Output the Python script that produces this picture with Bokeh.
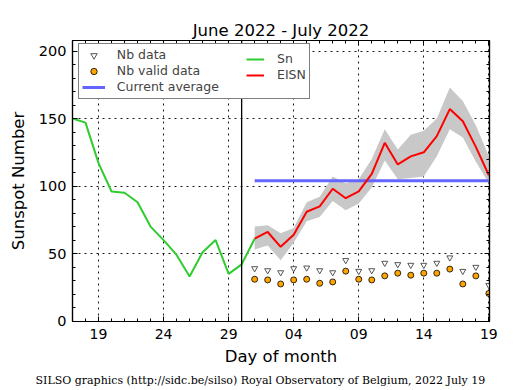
from bokeh.plotting import figure
from bokeh.models import Range1d, FixedTicker, Span, Legend, LegendItem, LinearAxis, Title
from bokeh.embed import file_html
from bokeh.resources import INLINE

# ---- data (day number: June d -> d, July d -> 30 + d) ----
sn_days = list(range(17, 32))
sn = [150, 147, 117, 96, 95, 88, 70, 60, 49, 33, 51, 60, 35, 42, 61]
est_days = list(range(31, 50))
eisn = [61, 66, 55, 64, 81, 85, 98, 91, 96, 109, 132, 116, 122, 125, 137, 157, 148, 129, 108]
eisn_hi = [70, 71, 65, 69, 88, 92, 107, 102, 105, 120, 142, 127, 138, 141, 150, 173, 163, 145, 122]
eisn_lo = [53, 56, 45, 58, 74, 77, 89, 82, 87, 99, 119, 105, 106, 107, 122, 142, 136, 118, 102]
nb_data = [39, 37.5, 36, 39, 39.5, 37.5, 36, 45, 37, 37.5, 43, 42, 41.5, 41.5, 43, 47, 37, 40, 26.5]
nb_valid = [31, 30.5, 27.5, 30.5, 31, 28, 29, 37, 31, 30.5, 33.5, 35.5, 34, 35.5, 35.5, 38.5, 27.5, 33.5, 20.5]
current_avg = 104
month_boundary = 30
x_ticks = [19, 24, 29, 34, 39, 44, 49]
x_tick_labels = ["19", "24", "29", "04", "09", "14", "19"]
y_ticks = [0, 50, 100, 150, 200]

FONT = "DejaVu Sans"

p = figure(width=515, height=390, x_range=Range1d(17, 49.05), y_range=Range1d(-0.3, 207.8),
           output_backend="svg", toolbar_location=None,
           min_border_left=72, min_border_right=26, min_border_top=40, min_border_bottom=68,
           x_axis_location=None, y_axis_location=None)
p.outline_line_color = "black"
p.outline_line_width = 1.2
p.background_fill_color = "white"
p.border_fill_color = "white"

xt = FixedTicker(ticks=x_ticks, minor_ticks=list(range(17, 50)))
yt = FixedTicker(ticks=y_ticks, minor_ticks=list(range(0, 210, 10)))

def style_axis(ax, show_labels):
    ax.axis_line_color = "black"
    ax.axis_line_width = 1.2
    ax.major_tick_in = 5
    ax.major_tick_out = 0
    ax.minor_tick_in = 3
    ax.minor_tick_out = 0
    ax.major_tick_line_color = "black"
    ax.minor_tick_line_color = "black"
    ax.major_label_text_font = FONT
    ax.axis_label_text_font = FONT
    ax.axis_label_text_font_style = "normal"
    ax.axis_label_text_color = "black"
    ax.major_label_text_color = "black"
    if not show_labels:
        ax.major_label_text_font_size = "0px"
        ax.major_label_text_alpha = 0
        ax.major_label_standoff = 0

xb = LinearAxis(ticker=xt, axis_label="Day of month",
                major_label_overrides={t: l for t, l in zip(x_ticks, x_tick_labels)})
style_axis(xb, True)
xb.major_label_text_font_size = "14px"
xb.major_label_standoff = 7
xb.axis_label_text_font_size = "16.5px"
xb.axis_label_standoff = 5
p.add_layout(xb, "below")

xa = LinearAxis(ticker=xt, axis_label=None)
style_axis(xa, False)
p.add_layout(xa, "above")

yl = LinearAxis(ticker=yt, axis_label="Sunspot Number")
style_axis(yl, True)
yl.major_label_text_font_size = "14.5px"
yl.major_label_standoff = 6
yl.axis_label_text_font_size = "16.5px"
yl.axis_label_standoff = 8
p.add_layout(yl, "left")

yr = LinearAxis(ticker=yt, axis_label=None)
style_axis(yr, False)
p.add_layout(yr, "right")

p.xgrid.ticker = xt
p.ygrid.ticker = yt
for g in (p.xgrid, p.ygrid):
    g.grid_line_color = "black"
    g.grid_line_dash = "2 4"
    g.grid_line_width = 1
    g.grid_line_alpha = 0.9

# ---- glyphs ----
band = p.varea(x=est_days, y1=eisn_lo, y2=eisn_hi, fill_color="#C8C8C8")
avg_r = p.line([est_days[0], est_days[-1]], [current_avg, current_avg],
               line_color="#6464FF", line_width=3)
eisn_r = p.line(est_days, eisn, line_color="#FF0000", line_width=2)
sn_r = p.line(sn_days, sn, line_color="#2ECC2E", line_width=2)
nb_r = p.scatter(est_days, nb_data, marker="inverted_triangle", size=6,
                 fill_color="white", line_color="#555555", line_width=1)
nbv_r = p.scatter(est_days, nb_valid, marker="circle", size=6,
                  fill_color="#FFA500", line_color="black", line_width=0.8)

p.add_layout(Span(location=month_boundary, dimension="height", line_color="black", line_width=1.3))

# ---- legend ----
leg_a = Legend(items=[LegendItem(label="Nb data", renderers=[nb_r]),
                      LegendItem(label="Nb valid data", renderers=[nbv_r]),
                      LegendItem(label="Current average", renderers=[avg_r])],
               location=(5.8, 222.5), padding=3, spacing=0,
               glyph_width=23, glyph_height=16, label_height=16, label_width=189,
               label_standoff=12, label_text_font=FONT, label_text_font_size="12.5px",
               border_line_color="black", border_line_width=1.2,
               background_fill_color="white", background_fill_alpha=1, margin=0)
leg_b = Legend(items=[LegendItem(label="Sn", renderers=[sn_r]),
                      LegendItem(label="EISN", renderers=[eisn_r])],
               location=(174, 238.5), padding=3, spacing=0,
               glyph_width=18, glyph_height=16, label_height=16,
               label_standoff=13, label_text_font=FONT, label_text_font_size="12.5px",
               border_line_color=None, background_fill_alpha=0, margin=0)
p.add_layout(leg_a, "center")
p.add_layout(leg_b, "center")

# ---- titles ----
footer = Title(text="SILSO graphics (http://sidc.be/silso) Royal Observatory of Belgium, 2022 July 19",
               align="left", offset=-37, text_font="DejaVu Serif", text_font_size="11px",
               text_font_style="normal", text_color="black", standoff=7)
p.add_layout(footer, "below")
title = Title(text="June 2022 - July 2022", align="center", text_font=FONT,
              text_font_size="16.5px", text_font_style="normal", text_color="black", standoff=2)
p.add_layout(title, "above")

open("out.html", "w").write(file_html(p, INLINE))
